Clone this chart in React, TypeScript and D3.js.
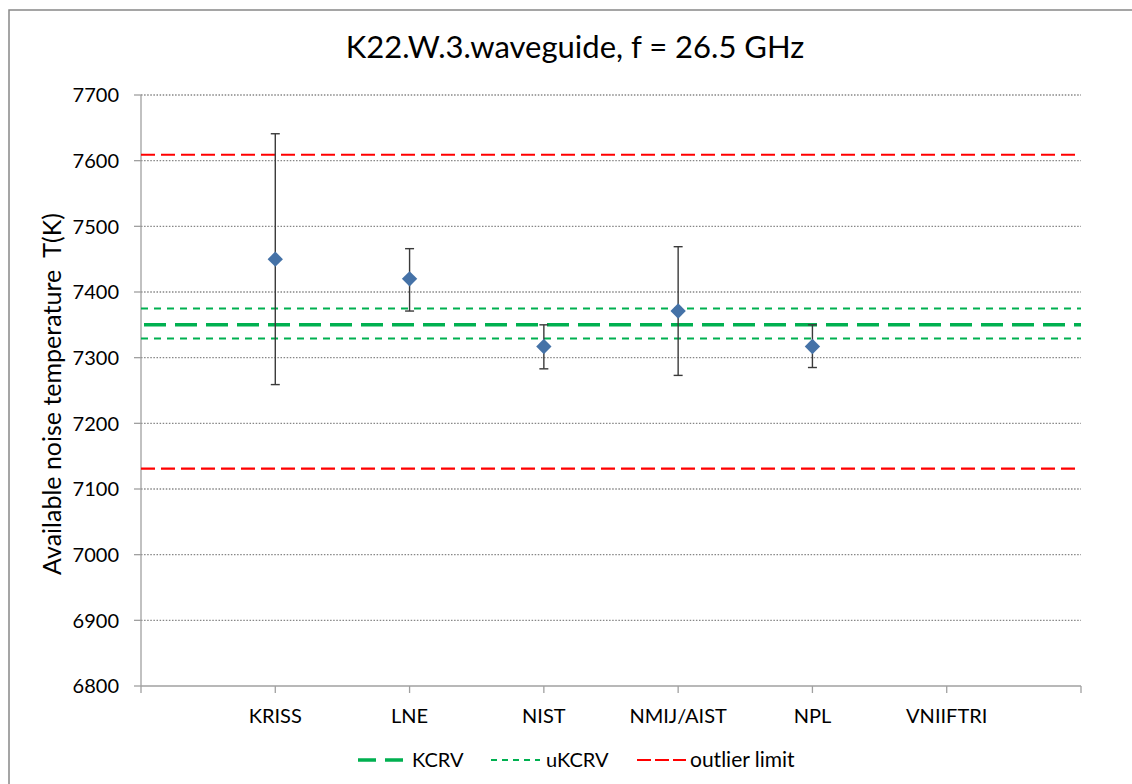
import React from "react";
import * as d3 from "d3";

const categories = ["KRISS", "LNE", "NIST", "NMIJ/AIST", "NPL", "VNIIFTRI"];
const values: (number | null)[] = [7450, 7420, 7317, 7371, 7317, null];
const upperBounds: (number | null)[] = [7641, 7466, 7350, 7469, 7350, null];
const lowerBounds: (number | null)[] = [7259, 7371, 7283, 7273, 7285, null];
const kcrv = 7350;
const ukcrv = [7329, 7375];
const outlierLimits = [7131, 7609];
const yTicks = [6800, 6900, 7000, 7100, 7200, 7300, 7400, 7500, 7600, 7700];
const xTicks = [0, 1, 2, 3, 4, 5, 6, 7];

const W = 1132;
const H = 784;
const FONT = "Lato, 'Open Sans', sans-serif";

export default function App() {
  const x = d3.scaleLinear().domain([0, 7]).range([141, 1081]);
  const y = d3.scaleLinear().domain([6800, 7700]).range([686, 95]);
  const x0 = x(0);
  const x1 = x(7);
  const diamond = d3.symbol().type(d3.symbolDiamond2).size(150)();

  return (
    <svg
      width={W}
      height={H}
      style={{ position: "absolute", left: 0, top: 0, background: "#fff" }}
      fontFamily={FONT}
    >
      <rect x={9} y={10} width={W + 20} height={H + 20} fill="#fff" stroke="#888" strokeWidth={1.5} />
      <text x={575} y={58} textAnchor="middle" fontSize={31} fill="#000">
        K22.W.3.waveguide, f = 26.5 GHz
      </text>

      {/* gridlines */}
      {yTicks.slice(1).map((t) => (
        <line key={t} x1={x0} x2={x1} y1={y(t)} y2={y(t)} stroke="#868686" strokeWidth={1.3} strokeDasharray="1.5 1.6" />
      ))}

      {/* axes */}
      <line x1={x0} x2={x0} y1={y(7700)} y2={y(6800)} stroke="#a0a0a0" strokeWidth={1.3} />
      <line x1={x0} x2={x1} y1={y(6800)} y2={y(6800)} stroke="#a0a0a0" strokeWidth={1.3} />
      {yTicks.map((t) => (
        <g key={t}>
          <line x1={x0 - 7} x2={x0} y1={y(t)} y2={y(t)} stroke="#a0a0a0" strokeWidth={1.3} />
          <text x={119} y={y(t)} dy="0.36em" textAnchor="end" fontSize={20} fill="#000">
            {t}
          </text>
        </g>
      ))}
      {xTicks.map((t) => (
        <line key={t} x1={x(t)} x2={x(t)} y1={y(6800)} y2={y(6800) + 7} stroke="#a0a0a0" strokeWidth={1.3} />
      ))}
      {categories.map((c, i) => (
        <text key={c} x={x(i + 1)} y={723} textAnchor="middle" fontSize={20} fill="#000">
          {c}
        </text>
      ))}
      <text
        transform={`translate(61,394) rotate(-90)`}
        textAnchor="middle"
        fontSize={25}
        fill="#000"
        style={{ whiteSpace: "pre" }}
      >
        {"Available noise temperature  T(K)"}
      </text>

      {/* reference lines */}
      {outlierLimits.map((v) => (
        <line key={v} x1={x0} x2={x1} y1={y(v)} y2={y(v)} stroke="#ff0000" strokeWidth={2.2} strokeDasharray="14 6" />
      ))}
      {ukcrv.map((v) => (
        <line key={v} x1={x0} x2={x1} y1={y(v)} y2={y(v)} stroke="#00b050" strokeWidth={2} strokeDasharray="7 6" />
      ))}
      <line x1={x0 + 3} x2={x1} y1={y(kcrv)} y2={y(kcrv)} stroke="#00b050" strokeWidth={3.5} strokeDasharray="22 9" />

      {/* error bars */}
      {values.map((v, i) => {
        const up = upperBounds[i];
        const lo = lowerBounds[i];
        if (v == null || up == null || lo == null) return null;
        const cx = x(i + 1);
        return (
          <g key={i} stroke="#3a3a3a" strokeWidth={1.4}>
            <line x1={cx} x2={cx} y1={y(up)} y2={y(lo)} />
            <line x1={cx - 4.5} x2={cx + 4.5} y1={y(up)} y2={y(up)} />
            <line x1={cx - 4.5} x2={cx + 4.5} y1={y(lo)} y2={y(lo)} />
          </g>
        );
      })}
      {values.map((v, i) =>
        v == null ? null : (
          <path key={i} d={diamond || ""} transform={`translate(${x(i + 1)},${y(v)})`} fill="#4572a7" />
        )
      )}

      {/* legend */}
      <g fontSize={20} fill="#000">
        <line x1={358} x2={407} y1={760} y2={760} stroke="#00b050" strokeWidth={3.5} strokeDasharray="18 9" />
        <text x={412} y={767}>KCRV</text>
        <line x1={491} x2={540} y1={760} y2={760} stroke="#00b050" strokeWidth={2} strokeDasharray="6 5" />
        <text x={546} y={767}>uKCRV</text>
        <line x1={637} x2={686} y1={760} y2={760} stroke="#ff0000" strokeWidth={2.2} strokeDasharray="14 4" />
        <text x={690} y={767} fontSize={21}>outlier limit</text>
      </g>
    </svg>
  );
}
